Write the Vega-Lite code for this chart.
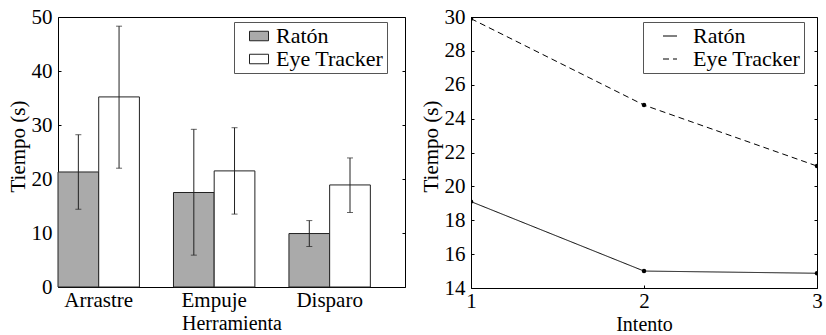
{
  "$schema": "https://vega.github.io/schema/vega-lite/v6.json",
  "padding": {"left": 6, "top": 5, "right": 0, "bottom": 0},
  "spacing": 66,
  "bounds": "flush",
  "resolve": {"legend": {"fill": "independent", "strokeDash": "independent"}, "scale": {"y": "independent", "x": "independent"}},
  "config": {
    "font": "Liberation Serif",
    "axis": {"labelFont": "Liberation Serif", "titleFont": "Liberation Serif", "labelFontSize": 21, "titleFontSize": 21, "titleFontWeight": "normal", "labelColor": "#000", "titleColor": "#000", "tickColor": "#000", "grid": false, "domain": false, "labelOverlap": false},
    "legend": {"labelFont": "Liberation Serif", "labelFontSize": 22, "labelColor": "#000"},
    "view": {"stroke": "#000", "strokeWidth": 1}
  },
  "hconcat": [
    {
      "width": 347,
      "height": 270,
      "data": {"values": [
        {"Herramienta": "Arrastre", "Dispositivo": "Ratón", "media": 21.3, "min": 14.4, "max": 28.2},
        {"Herramienta": "Arrastre", "Dispositivo": "Eye Tracker", "media": 35.2, "min": 22.0, "max": 48.3},
        {"Herramienta": "Empuje", "Dispositivo": "Ratón", "media": 17.5, "min": 5.9, "max": 29.2},
        {"Herramienta": "Empuje", "Dispositivo": "Eye Tracker", "media": 21.5, "min": 13.5, "max": 29.5},
        {"Herramienta": "Disparo", "Dispositivo": "Ratón", "media": 9.9, "min": 7.5, "max": 12.3},
        {"Herramienta": "Disparo", "Dispositivo": "Eye Tracker", "media": 18.9, "min": 13.8, "max": 23.9}
      ]},
      "encoding": {
        "x": {"field": "Herramienta", "type": "nominal", "sort": ["Arrastre", "Empuje", "Disparo"],
          "scale": {"paddingInner": 0.295, "paddingOuter": 0.15, "align": 0},
          "axis": {"title": "Herramienta", "labelAngle": 0, "ticks": false, "labelPadding": 2, "titlePadding": 3, "titleFontSize": 20}},
        "xOffset": {"field": "Dispositivo", "type": "nominal", "sort": ["Ratón", "Eye Tracker"], "scale": {"paddingInner": 0, "paddingOuter": 0}}
      },
      "layer": [
        {
          "mark": {"type": "bar", "stroke": "#222", "strokeWidth": 1},
          "encoding": {
            "y": {"field": "media", "type": "quantitative", "scale": {"domain": [0, 50]},
              "axis": {"title": "Tiempo (s)", "values": [0, 10, 20, 30, 40, 50], "tickSize": -3, "labelPadding": 9, "titlePadding": 3, "titleY": 129}},
            "fill": {"field": "Dispositivo", "type": "nominal", "scale": {"domain": ["Ratón", "Eye Tracker"], "range": ["#aaaaaa", "#ffffff"]},
              "legend": {"orient": "none", "legendX": 176, "legendY": 5, "title": null, "strokeColor": "#555", "fillColor": "#fff", "padding": 3, "rowPadding": 1, "symbolType": "M-1,-0.5H1V0.5H-1Z", "symbolSize": 361, "symbolStrokeColor": "#222", "symbolStrokeWidth": 1, "symbolOffset": 11, "labelOffset": 6}}
          }
        },
        {
          "mark": {"type": "rule", "color": "#222", "strokeWidth": 1},
          "encoding": {
            "y": {"field": "min", "type": "quantitative", "scale": {"domain": [0, 50]},
              "axis": {"orient": "right", "title": null, "labels": false, "values": [0, 10, 20, 30, 40, 50], "tickSize": -3}},
            "y2": {"field": "max"}
          }
        },
        {
          "mark": {"type": "tick", "color": "#222", "size": 6, "thickness": 1},
          "encoding": {"y": {"field": "min", "type": "quantitative", "scale": {"domain": [0, 50]}, "axis": null}}
        },
        {
          "mark": {"type": "tick", "color": "#222", "size": 6, "thickness": 1},
          "encoding": {"y": {"field": "max", "type": "quantitative", "scale": {"domain": [0, 50]}, "axis": null}}
        }
      ],
      "resolve": {"axis": {"y": "independent"}}
    },
    {
      "width": 346,
      "height": 271,
      "data": {"values": [
        {"Intento": 1, "Dispositivo": "Ratón", "Tiempo": 19.1},
        {"Intento": 2, "Dispositivo": "Ratón", "Tiempo": 15.0},
        {"Intento": 3, "Dispositivo": "Ratón", "Tiempo": 14.87},
        {"Intento": 1, "Dispositivo": "Eye Tracker", "Tiempo": 29.9},
        {"Intento": 2, "Dispositivo": "Eye Tracker", "Tiempo": 24.8},
        {"Intento": 3, "Dispositivo": "Eye Tracker", "Tiempo": 21.2}
      ]},
      "encoding": {
        "x": {"field": "Intento", "type": "ordinal", "scale": {"type": "point", "padding": 0},
          "axis": {"title": "Intento", "labelAngle": 0, "tickSize": -3, "labelPadding": 5, "titlePadding": 3, "titleFontSize": 20}}
      },
      "layer": [
        {
          "mark": {"type": "line", "color": "#000", "strokeWidth": 1, "clip": true},
          "encoding": {
            "y": {"field": "Tiempo", "type": "quantitative", "scale": {"domain": [14, 30], "nice": false},
              "axis": {"title": "Tiempo (s)", "values": [14, 16, 18, 20, 22, 24, 26, 28, 30], "tickSize": -3, "labelPadding": 9, "titlePadding": 3, "titleY": 129}},
            "strokeDash": {"field": "Dispositivo", "type": "nominal", "scale": {"domain": ["Ratón", "Eye Tracker"], "range": [[1, 0], [6, 4]]},
              "legend": {"orient": "none", "legendX": 172, "legendY": 5, "title": null, "strokeColor": "#555", "fillColor": "#fff", "padding": 3, "rowPadding": 1, "symbolType": "stroke", "symbolSize": 196, "symbolStrokeColor": "#000", "symbolStrokeWidth": 1, "symbolOffset": 13, "labelOffset": 12}}
          }
        },
        {
          "mark": {"type": "circle", "color": "#000", "size": 20, "opacity": 1, "clip": true},
          "encoding": {
            "y": {"field": "Tiempo", "type": "quantitative", "scale": {"domain": [14, 30], "nice": false},
              "axis": {"orient": "right", "title": null, "labels": false, "values": [14, 16, 18, 20, 22, 24, 26, 28, 30], "tickSize": -3}}
          }
        }
      ],
      "resolve": {"axis": {"y": "independent"}}
    }
  ]
}
